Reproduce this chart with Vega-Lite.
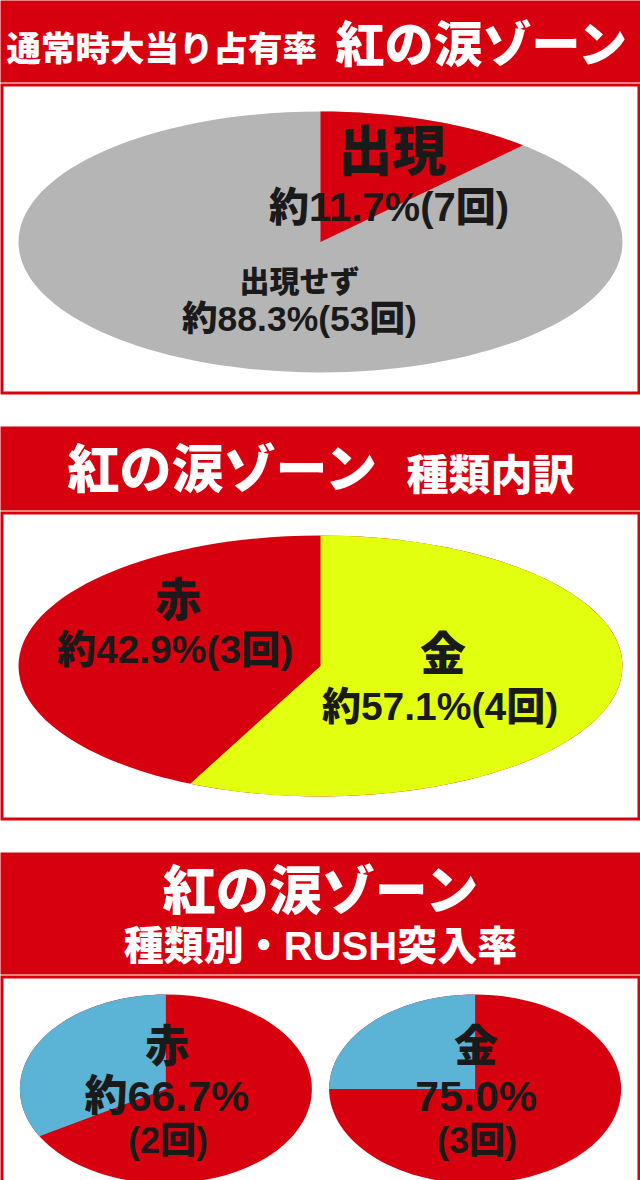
{
  "$schema": "https://vega.github.io/schema/vega-lite/v6.json",
  "padding": 0,
  "background": "white",
  "config": {
    "view": {"stroke": null},
    "text": {"font": "'Liberation Sans', 'Noto Sans CJK JP'", "fontWeight": 900, "fill": "#1a1a1a"}
  },
  "datasets": {
    "share": [
      {"slice": "出現", "pct": 11.7, "count": 7, "label": "約11.7%(7回)"},
      {"slice": "出現せず", "pct": 88.3, "count": 53, "label": "約88.3%(53回)"}
    ],
    "kind": [
      {"slice": "赤", "pct": 42.9, "count": 3, "label": "約42.9%(3回)"},
      {"slice": "金", "pct": 57.1, "count": 4, "label": "約57.1%(4回)"}
    ],
    "rush": [
      {"type": "赤", "part": "RUSH突入", "pct": 66.7, "count": 2, "rate": "約66.7%", "times": "(2回)"},
      {"type": "赤", "part": "非突入", "pct": 33.3, "count": 1, "rate": "", "times": ""},
      {"type": "金", "part": "RUSH突入", "pct": 75.0, "count": 3, "rate": "75.0%", "times": "(3回)"},
      {"type": "金", "part": "非突入", "pct": 25.0, "count": 1, "rate": "", "times": ""}
    ]
  },
  "spacing": 31,
  "resolve": {"scale": {"color": "independent", "shape": "independent"}},
  "vconcat": [
    {
      "spacing": 0,
      "vconcat": [
        {
          "width": 637, "height": 79,
          "view": {"fill": "#d7000f", "stroke": "#d7000f", "strokeWidth": 3},
          "data": {"values": [{}]},
          "layer": [
            {"mark": {"type": "text", "align": "left", "fontSize": 34.5, "dx": -314, "dy": 9, "fill": "white"},
             "encoding": {"text": {"value": "通常時大当り占有率"}}},
            {"mark": {"type": "text", "align": "left", "fontSize": 49, "dx": 15, "dy": 5, "fill": "white"},
             "encoding": {"text": {"value": "紅の涙ゾーン"}}}
          ]
        },
        {
          "width": 637, "height": 308,
          "view": {"stroke": "#d7000f", "strokeWidth": 3},
          "data": {"name": "share"},
          "layer": [
            {"mark": {"type": "point", "filled": true, "opacity": 1, "strokeWidth": 0, "size": 364816, "yOffset": 3},
             "encoding": {
               "shape": {"field": "slice", "type": "nominal", "legend": null,
                 "scale": {"domain": ["出現せず", "出現"], "range": ["M-1 0A1 0.4321 0 1 1 1 0A1 0.4321 0 1 1 -1 0Z", "M0 0L0 -0.4321A1 0.4321 0 0 1 0.6706 -0.3205Z"]}},
               "color": {"field": "slice", "type": "nominal", "legend": null,
                 "scale": {"domain": ["出現せず", "出現"], "range": ["#b5b5b6", "#d7000f"]}},
               "order": {"field": "pct", "sort": "descending"}
             }},
            {"transform": [{"filter": "datum.slice === '出現'"}],
             "mark": {"type": "text", "fontSize": 54, "dx": 72, "dy": -84},
             "encoding": {"text": {"field": "slice"}}},
            {"transform": [{"filter": "datum.slice === '出現'"}],
             "mark": {"type": "text", "fontSize": 40, "dx": 68.5, "dy": -30},
             "encoding": {"text": {"field": "label"}}},
            {"transform": [{"filter": "datum.slice === '出現せず'"}],
             "mark": {"type": "text", "fontSize": 30, "dx": -21, "dy": 43.5},
             "encoding": {"text": {"field": "slice"}}},
            {"transform": [{"filter": "datum.slice === '出現せず'"}],
             "mark": {"type": "text", "fontSize": 35.5, "dx": -21, "dy": 81},
             "encoding": {"text": {"field": "label"}}}
          ]
        }
      ]
    },
    {
      "spacing": 0,
      "vconcat": [
        {
          "width": 637, "height": 81,
          "view": {"fill": "#d7000f", "stroke": "#d7000f", "strokeWidth": 3},
          "data": {"values": [{}]},
          "layer": [
            {"mark": {"type": "text", "align": "left", "fontSize": 52, "dx": -253, "dy": 3, "fill": "white"},
             "encoding": {"text": {"value": "紅の涙ゾーン"}}},
            {"mark": {"type": "text", "align": "left", "fontSize": 42, "dx": 86, "dy": 8, "fill": "white"},
             "encoding": {"text": {"value": "種類内訳"}}}
          ]
        },
        {
          "width": 637, "height": 306,
          "view": {"stroke": "#d7000f", "strokeWidth": 3},
          "data": {"name": "kind"},
          "layer": [
            {"mark": {"type": "point", "filled": true, "opacity": 1, "strokeWidth": 0, "size": 364816, "yOffset": 0},
             "encoding": {
               "shape": {"field": "slice", "type": "nominal", "legend": null,
                 "scale": {"domain": ["赤", "金"], "range": ["M-1 0A1 0.4321 0 1 1 1 0A1 0.4321 0 1 1 -1 0Z", "M0 0L0 -0.4321A1 0.4321 0 1 1 -0.4315 0.3898Z"]}},
               "color": {"field": "slice", "type": "nominal", "legend": null,
                 "scale": {"domain": ["赤", "金"], "range": ["#d7000f", "#e3ff10"]}},
               "order": {"field": "pct", "sort": "ascending"}
             }},
            {"transform": [{"filter": "datum.slice === '赤'"}],
             "mark": {"type": "text", "fontSize": 46, "dx": -142.5, "dy": -64},
             "encoding": {"text": {"field": "slice"}}},
            {"transform": [{"filter": "datum.slice === '赤'"}],
             "mark": {"type": "text", "fontSize": 39, "dx": -145.5, "dy": -15},
             "encoding": {"text": {"field": "label"}}},
            {"transform": [{"filter": "datum.slice === '金'"}],
             "mark": {"type": "text", "fontSize": 46, "dx": 122.5, "dy": -10},
             "encoding": {"text": {"field": "slice"}}},
            {"transform": [{"filter": "datum.slice === '金'"}],
             "mark": {"type": "text", "fontSize": 39, "dx": 119.5, "dy": 41.5},
             "encoding": {"text": {"field": "label"}}}
          ]
        }
      ]
    },
    {
      "spacing": 0,
      "vconcat": [
        {
          "width": 637, "height": 119,
          "view": {"fill": "#d7000f", "stroke": "#d7000f", "strokeWidth": 3},
          "data": {"values": [{}]},
          "layer": [
            {"mark": {"type": "text", "fontSize": 53, "dy": -19.5, "fill": "white"},
             "encoding": {"text": {"value": "紅の涙ゾーン"}}},
            {"mark": {"type": "text", "fontSize": 40, "dy": 34, "fill": "white"},
             "encoding": {"text": {"value": "種類別・RUSH突入率"}}}
          ]
        },
        {
          "width": 637, "height": 222,
          "view": {"stroke": "#d7000f", "strokeWidth": 3},
          "data": {"name": "rush"},
          "encoding": {
            "x": {"field": "type", "type": "nominal", "axis": null,
              "scale": {"type": "point", "domain": ["赤", "金"], "padding": 0.53}}
          },
          "layer": [
            {"transform": [{"filter": "datum.part === 'RUSH突入'"}],
             "mark": {"type": "point", "filled": true, "opacity": 1, "strokeWidth": 0, "size": 85264, "yOffset": 1, "color": "#d7000f",
               "shape": "M-1 0A1 0.6473 0 1 1 1 0A1 0.6473 0 1 1 -1 0Z"}},
            {"transform": [{"filter": "datum.part === '非突入'"}],
             "mark": {"type": "point", "filled": true, "opacity": 1, "strokeWidth": 0, "size": 85264, "yOffset": 1, "color": "#5bb3d6"},
             "encoding": {
               "shape": {"field": "type", "type": "nominal", "legend": null,
                 "scale": {"domain": ["赤", "金"], "range": ["M0 0L-0.866 0.3237A1 0.6473 0 0 1 0 -0.6473Z", "M0 0L-1 0A1 0.6473 0 0 1 0 -0.6473Z"]}}
             }},
            {"transform": [{"filter": "datum.part === 'RUSH突入'"}],
             "mark": {"type": "text", "fontSize": 44, "dx": 1, "dy": -39.5},
             "encoding": {"text": {"field": "type"}}},
            {"transform": [{"filter": "datum.part === 'RUSH突入'"}],
             "mark": {"type": "text", "fontSize": 43, "dx": 1, "dy": 10},
             "encoding": {"text": {"field": "rate"}}},
            {"transform": [{"filter": "datum.part === 'RUSH突入'"}],
             "mark": {"type": "text", "fontSize": 36, "dx": 2, "dy": 54},
             "encoding": {"text": {"field": "times"}}}
          ]
        }
      ]
    }
  ]
}
